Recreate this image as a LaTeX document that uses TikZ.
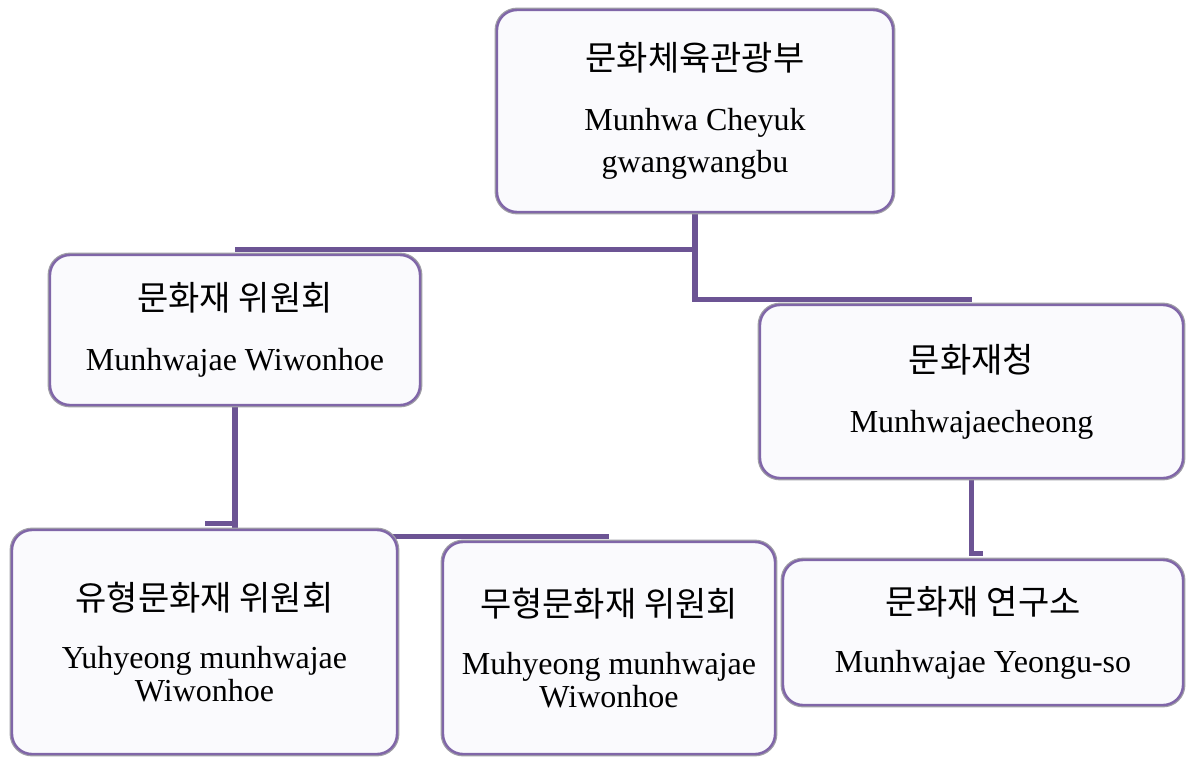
\documentclass[tikz,border=0pt]{standalone}
\usepackage{fontspec}
\setmainfont{Liberation Serif}
\newfontfamily\kr{Noto Sans CJK KR}
\usetikzlibrary{
  positioning,
  backgrounds
}
\definecolor{boxline}{RGB}{128,102,168}
\definecolor{linkline}{RGB}{108,84,148}
\definecolor{boxfill}{RGB}{250,250,253}
\definecolor{edgegray}{RGB}{160,158,166}

\begin{document}
\begin{tikzpicture}[x=0.5pt, y=-0.5pt,
    orgbox/.style={draw=boxline, line width=1.2pt, fill=boxfill, rounded corners=10pt,
      inner sep=0pt, align=center, font=\fontsize{16}{21}\selectfont,
      preaction={draw=edgegray, line width=2.4pt}},
    link/.style={draw=linkline, line width=2.6pt}]
  \useasboundingbox (0,0) rectangle (1189,756);

  % ministry on top
  \node[orgbox, minimum width=198pt, minimum height=101pt] (mcst) at (695,111)
    {{\kr\fontsize{17}{21}\selectfont 문화체육관광부}\\[9pt]Munhwa Cheyuk\\gwangwangbu};

  % second level
  \node[orgbox, minimum width=185pt, minimum height=75pt] (council) at (235,330)
    {{\kr\fontsize{17}{21}\selectfont 문화재 위원회}\\[9pt]Munhwajae Wiwonhoe};
  \node[orgbox, minimum width=211.5pt, minimum height=86.5pt] (agency) at (971.5,391.5)
    {{\kr\fontsize{17}{21}\selectfont 문화재청}\\[9pt]Munhwajaecheong};

  % third level
  \node[orgbox, minimum width=192.5pt, minimum height=112pt] (tangible) at (204.5,642)
    {{\kr\fontsize{17}{21}\selectfont 유형문화재 위원회}\\[8pt]Yuhyeong munhwajae\\[-4.5pt]Wiwonhoe};
  \node[orgbox, minimum width=166pt, minimum height=106pt] (intangible) at (609,648)
    {{\kr\fontsize{17}{21}\selectfont 무형문화재 위원회}\\[8pt]Muhyeong munhwajae\\[-4.5pt]Wiwonhoe};
  \node[orgbox, minimum width=200pt, minimum height=72.5pt] (institute) at (983,632.5)
    {{\kr\fontsize{17}{21}\selectfont 문화재 연구소}\\[8pt]Munhwajae Yeongu-so};

  % elbow links behind the boxes
  \begin{pgfonlayer}{background}
    \draw[link] (mcst.south) |- ([yshift=2pt]council.north);
    \draw[link] (mcst.south) |- ([yshift=2pt]agency.north);
    \draw[link] (council.south) |- ([yshift=2.5pt]tangible.north);
    \draw[link] (council.south) |- ([yshift=2pt]intangible.north);
    \draw[link] (agency.south) |- ([yshift=2.5pt]institute.north);
  \end{pgfonlayer}
\end{tikzpicture}
\end{document}
